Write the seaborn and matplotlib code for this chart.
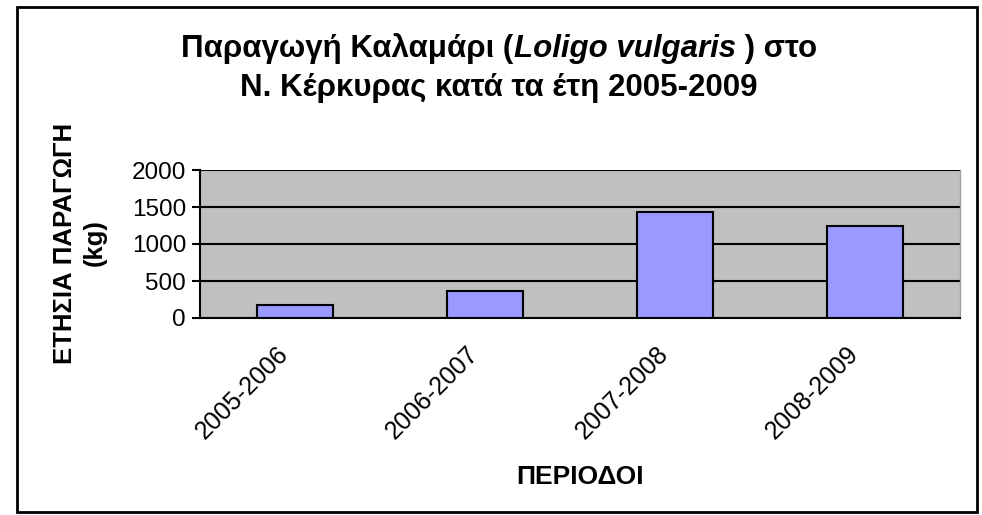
import matplotlib
matplotlib.use("Agg")
import matplotlib.pyplot as plt
import matplotlib.transforms as mtransforms
import seaborn as sns
import pandas as pd
from matplotlib.patches import Rectangle

periods = ["2005-2006", "2006-2007", "2007-2008", "2008-2009"]
production = [181, 371, 1430, 1240]
y_ticks = [0, 500, 1000, 1500, 2000]

df = pd.DataFrame({"period": periods, "kg": production})

sns.set_theme(style="white")
plt.rcParams["font.family"] = ["Liberation Sans", "DejaVu Sans"]
plt.rcParams["text.color"] = "black"
plt.rcParams["xtick.color"] = "black"
plt.rcParams["ytick.color"] = "black"

W, H = 982, 515
fig = plt.figure(figsize=(W / 100, H / 100), dpi=100)
# plot area in pixels: x 200-960, y 170-318
ax = fig.add_axes([200 / W, 1 - 318 / H, 760 / W, 148 / H])
ax.set_facecolor("#C0C0C0")

sns.barplot(data=df, x="period", y="kg", color="#9999FF", edgecolor="black",
            linewidth=1.5, width=0.4, saturation=1, ax=ax, zorder=3)

ax.set_ylim(0, 2000)
ax.set_xlim(-0.5, len(periods) - 0.5)
ax.set_yticks(y_ticks)
ax.set_yticklabels([str(t) for t in y_ticks], fontsize=17.5)
ax.yaxis.grid(True, color="black", linewidth=1.5, zorder=1)
ax.set_axisbelow(True)
ax.spines["top"].set_visible(False)
ax.spines["right"].set_color("#A0A0A0")
ax.spines["right"].set_linewidth(1)
for s in ["bottom", "left"]:
    ax.spines[s].set_color("black")
    ax.spines[s].set_linewidth(1.5)

# tick marks on category boundaries, labels in the middle
ax.set_xticks([i - 0.5 for i in range(len(periods) + 1)], minor=True)
ax.tick_params(axis="x", which="minor", length=7, width=1.5, color="black", direction="out")
ax.tick_params(axis="x", which="major", length=0, pad=23)
ax.tick_params(axis="y", length=6, width=1.5, color="black", direction="out", left=True, pad=4)
ax.set_xticks(range(len(periods)))
ax.set_xticklabels(periods, rotation=45, ha="right", va="center", rotation_mode="anchor",
                   fontsize=18)
shift = mtransforms.ScaledTranslation(-0.1, 0, fig.dpi_scale_trans)
for lbl in ax.get_xticklabels():
    lbl.set_transform(lbl.get_transform() + shift)
ax.set_xlabel("")
ax.set_ylabel("")

fig.text(80 / W, 1 - 243 / H, "ΕΤΗΣΙΑ ΠΑΡΑΓΩΓΗ\n(kg)", rotation=90, ha="center",
         va="center", multialignment="center", fontsize=18.5, fontweight="bold", linespacing=1.3)
fig.text(580 / W, 1 - 477 / H, "ΠΕΡΙΟΔΟΙ", ha="center", va="center",
         fontsize=19, fontweight="bold")

# title, first line mixes bold and bold italic
title_size = 22.5
parts = [("Παραγωγή Καλαμάρι (", "normal"), ("Loligo vulgaris", "italic"), (" ) στο", "normal")]
texts = []
for s, style in parts:
    t = fig.text(0, 1 - 49 / H, s, ha="left", va="center", fontsize=title_size,
                 fontweight="bold", fontstyle=style)
    texts.append(t)
fig.canvas.draw()
r = fig.canvas.get_renderer()
widths = [t.get_window_extent(r).width / fig.bbox.width for t in texts]
x = 499 / W - sum(widths) / 2
for t, w in zip(texts, widths):
    t.set_x(x)
    x += w
fig.text(499 / W, 1 - 88 / H, "Ν. Κέρκυρας κατά τα έτη 2005-2009", ha="center", va="center",
         fontsize=title_size, fontweight="bold")

fig.patches.append(Rectangle((17 / W, 1 - 512 / H), 960 / W, 505 / H, transform=fig.transFigure,
                             fill=False, edgecolor="black", linewidth=2))

fig.savefig("out.png", dpi=100)
